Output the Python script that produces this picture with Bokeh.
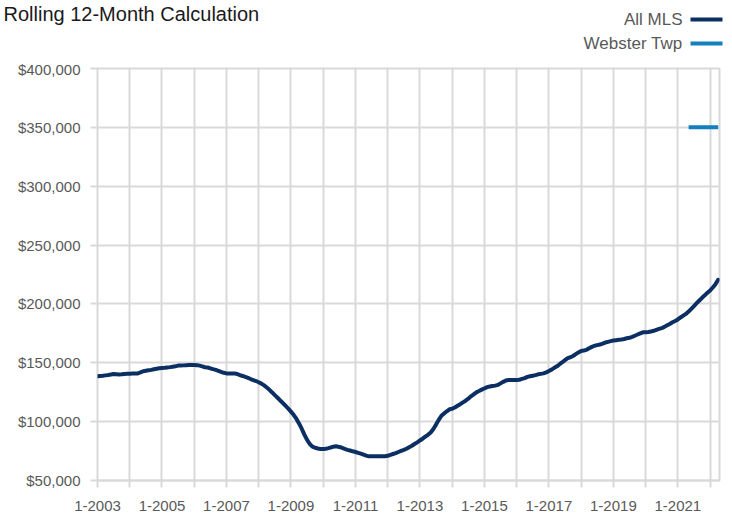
from bokeh.plotting import figure
from bokeh.layouts import column, row
from bokeh.models import Range1d, FixedTicker, NumeralTickFormatter
from bokeh.core.properties import value
from bokeh.embed import file_html
from bokeh.resources import INLINE

# ---- data (rolling 12-month median price, thousands of $) ----
start_year = 2003
all_mls_k = [
    # 2003
    138.5, 138.8, 139.0, 139.3, 139.6, 140.0, 140.5, 140.3, 140.0, 140.2, 140.5, 140.6,
    # 2004
    140.7, 140.8, 140.9, 141.0, 141.8, 142.8, 143.2, 143.6, 144.0, 144.5, 144.9, 145.3,
    # 2005
    145.5, 145.7, 146.0, 146.3, 146.7, 147.0, 147.6, 147.6, 147.8, 148.0, 148.1, 148.2,
    # 2006
    148.2, 148.0, 147.6, 147.0, 146.2, 146.0, 145.3, 144.6, 144.0, 143.2, 142.3, 141.5,
    # 2007
    141.0, 141.0, 141.0, 141.0, 140.5, 139.5, 138.8, 138.0, 137.2, 136.2, 135.3, 134.5,
    # 2008
    133.5, 132.3, 130.8, 129.0, 127.0, 124.8, 122.5, 120.3, 118.0, 115.8, 113.5, 111.0,
    # 2009
    108.5, 105.8, 102.5, 98.5, 94.0, 89.0, 84.5, 81.0, 78.8, 77.8, 77.2, 76.8,
    # 2010
    76.8, 77.0, 77.5, 78.2, 78.8, 79.0, 78.5, 77.8, 76.8, 76.0, 75.5, 74.8,
    # 2011
    74.2, 73.5, 72.8, 72.0, 71.2, 70.5, 70.5, 70.5, 70.5, 70.5, 70.5, 70.6,
    # 2012
    71.0, 71.8, 72.5, 73.2, 74.2, 75.2, 76.0, 77.0, 78.3, 79.5, 81.0, 82.4,
    # 2013
    84.0, 85.5, 87.2, 88.8, 90.8, 93.8, 97.5, 101.5, 105.0, 107.0, 108.8, 110.5,
    # 2014
    111.0, 112.0, 113.5, 114.8, 116.4, 117.8, 119.5, 121.5, 123.2, 124.9, 126.0, 127.2,
    # 2015
    128.2, 129.3, 129.8, 130.2, 130.6, 131.2, 132.5, 133.8, 135.0, 135.4, 135.4, 135.4,
    # 2016
    135.4, 135.6, 136.3, 137.0, 138.0, 138.5, 139.0, 139.5, 140.2, 140.6, 141.0, 141.8,
    # 2017
    143.0, 144.2, 145.7, 147.0, 148.8, 150.5, 152.3, 154.0, 154.7, 155.8, 157.3, 158.8,
    # 2018
    160.0, 160.4, 161.0, 162.3, 163.5, 164.5, 165.0, 165.5, 166.3, 167.2, 167.8, 168.4,
    # 2019
    168.9, 169.2, 169.5, 169.8, 170.2, 170.8, 171.2, 172.0, 173.0, 174.0, 175.0, 175.9,
    # 2020
    176.0, 176.2, 176.5, 177.2, 178.0, 178.8, 179.5, 180.5, 181.8, 183.0, 184.4, 185.5,
    # 2021
    186.8, 188.5, 190.0, 191.5, 193.5, 195.8, 198.2, 200.6, 202.9, 205.2, 207.3, 209.5,
    # 2022
    211.4, 214.0, 216.8, 220.5,
]
# Webster Twp: only reported from 5-2021 onward (month index from 1-2003)
webster_month_index = [220, 221, 222, 223, 224, 225, 226, 227, 228, 229, 230, 231]
webster_k = [350, 350, 350, 350, 350, 350, 350, 350, 350, 350, 350, 350]

y_ticks = [50000, 100000, 150000, 200000, 250000, 300000, 350000, 400000]
x_tick_labels = ["1-2003", "", "1-2005", "", "1-2007", "", "1-2009", "", "1-2011", "",
                 "1-2013", "", "1-2015", "", "1-2017", "", "1-2019", "", "1-2021", ""]

title_text = "Rolling 12-Month Calculation"
series_names = ["All MLS", "Webster Twp"]
series_colors = ["#0B2F62", "#137FBB"]

months = list(range(len(all_mls_k)))
all_mls = [v * 1000 for v in all_mls_k]
webster = [v * 1000 for v in webster_k]
x_ticks = [12 * i for i in range(len(x_tick_labels))]

FONT = "Liberation Sans"
GRID = "#D9D9D9"
TXT = "#595959"
W = 732
HEAD_H = 60
MAIN_H = 454

# ---------- header: title + legend ----------
h = figure(width=W, height=HEAD_H, output_backend="svg", toolbar_location=None,
           x_range=Range1d(0, W), y_range=Range1d(HEAD_H, 0),
           x_axis_type=None, y_axis_type=None, min_border=0,
           outline_line_color=None, background_fill_color="white",
           border_fill_color="white")
h.xgrid.visible = False
h.ygrid.visible = False
h.text(x=[3], y=[13], text=[title_text], text_font=value(FONT),
       text_font_size=value("20px"), text_color="#1A1A1A",
       text_baseline="middle", text_align="left")
leg_y = [19, 43]
h.text(x=[682, 682], y=leg_y, text=series_names, text_font=value(FONT),
       text_font_size=value("17px"), text_color=TXT,
       text_baseline="middle", text_align="right")
h.segment(x0=[690, 690], y0=leg_y, x1=[722, 722], y1=leg_y,
          line_color=series_colors, line_width=4)

# ---------- main chart ----------
p = figure(width=W, height=MAIN_H, output_backend="svg", toolbar_location=None,
           x_range=Range1d(0, 231.5), y_range=Range1d(50000, 400000),
           min_border_left=97, min_border_right=13, min_border_top=8,
           min_border_bottom=34, background_fill_color="white",
           border_fill_color="white", outline_line_color=GRID,
           outline_line_width=2)

p.line(months, all_mls, line_color=series_colors[0], line_width=4,
       line_cap="round", line_join="round")
p.line(webster_month_index, webster, line_color=series_colors[1], line_width=4,
       line_cap="butt")

p.xgrid.ticker = FixedTicker(ticks=x_ticks)
p.ygrid.ticker = FixedTicker(ticks=y_ticks)
for g in (p.xgrid, p.ygrid):
    g.grid_line_color = GRID
    g.grid_line_width = 2

p.xaxis.ticker = FixedTicker(ticks=x_ticks)
p.xaxis.major_label_overrides = {t: l for t, l in zip(x_ticks, x_tick_labels)}
p.yaxis.ticker = FixedTicker(ticks=y_ticks)
p.yaxis.formatter = NumeralTickFormatter(format="$0,0")
for ax in (p.xaxis, p.yaxis):
    ax.axis_line_color = GRID
    ax.axis_line_width = 2
    ax.major_tick_line_color = GRID
    ax.major_tick_line_width = 2
    ax.major_tick_out = 7
    ax.major_tick_in = 0
    ax.minor_tick_line_color = None
    ax.major_label_text_font = FONT
    ax.major_label_text_font_size = "15px"
    ax.major_label_text_color = TXT
p.yaxis.axis_line_color = None
p.yaxis.major_label_standoff = 10
p.xaxis.major_label_standoff = 13

layout = column(row(h), row(p), spacing=0)
open("out.html", "w").write(file_html(layout, INLINE))
